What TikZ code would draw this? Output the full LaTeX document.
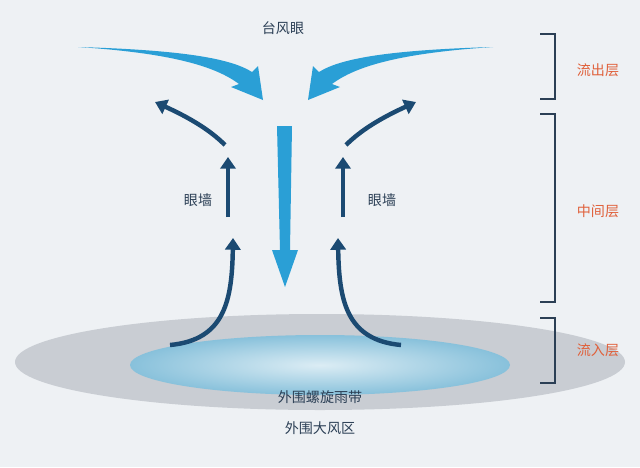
\documentclass[tikz,border=0pt]{standalone}
\usepackage{fontspec}
\usepackage{tikz}
\usetikzlibrary{arrows.meta}
\newfontfamily\cjk{Noto Sans CJK SC}
\definecolor{bgc}{HTML}{EEF1F4}
\definecolor{zone}{HTML}{C9CDD3}
\definecolor{rain}{HTML}{88C1DB}
\definecolor{light}{HTML}{2A9FD6}
\definecolor{deep}{HTML}{1B4A72}
\definecolor{brk}{HTML}{2B3F55}
\definecolor{lay}{HTML}{E0603A}
\begin{document}
\begin{tikzpicture}[x=0.03cm,y=-0.03cm]
      \tikzset{T/.style = {font=\cjk\fontsize{12}{14}\selectfont, text=brk}}
      \tikzset{L/.style = {font=\cjk\fontsize{12}{14}\selectfont, text=lay}}
      \tikzset{U/.style = {draw=deep, line width=3.8pt, -{Triangle[width=13pt,length=10pt]}}}
      \tikzset{B/.style = {draw=brk, line width=1pt}}
      \fill[bgc] (0,0) rectangle (640,467);
      \useasboundingbox (0,0) rectangle (640,467);
      % ground
      \fill[zone] (320,362) ellipse [x radius=305, y radius=48];
      \shade[inner color=rain!30!white, outer color=rain]
        (320,365) ellipse [x radius=190, y radius=30];
      \node[T](band) at (320,397) {外围螺旋雨带};
      \node[T](gale) at (320,428) {外围大风区};
      \node[T](eye) at (283,28) {台风眼};
      % sinking air
      \fill[light] (277,126) -- (292,126) -- (290,250) -- (298,250) -- (285,287)
        -- (272,250) -- (280,250) -- cycle;
      % both halves
      \foreach \s/\d in {1/0,-1/571}{
      \begin{scope}[shift={(\d,0)}, xscale=\s]
      \fill[light] (78,47) .. controls (180,50) and (230,58) .. (252,72)
        -- (258,66) -- (263,100) -- (231,87) -- (239,84)
        .. controls (215,66) and (170,53) .. cycle;
      \draw[U] (170,345) .. controls (225,340) and (232,300) .. (233,238);
      \draw[U] (228,217) -- (228,157);
      \draw[U] (225,145) .. controls (210,130) and (190,118) .. (155,102);
      \end{scope}}
      \node[T](wallL) at (198,200) {眼墙};
      \node[T](wallR) at (382,200) {眼墙};
      % layers
      \draw[B] (540,34) -- (555,34) -- (555,99) -- (540,99);
      \draw[B] (540,114) -- (555,114) -- (555,302) -- (540,302);
      \draw[B] (540,318) -- (555,318) -- (555,383) -- (540,383);
      \node[L](outflow) at (598,70) {流出层};
      \node[L](middle) at (598,211) {中间层};
      \node[L](inflow) at (598,350) {流入层};
    \end{tikzpicture}
\end{document}
